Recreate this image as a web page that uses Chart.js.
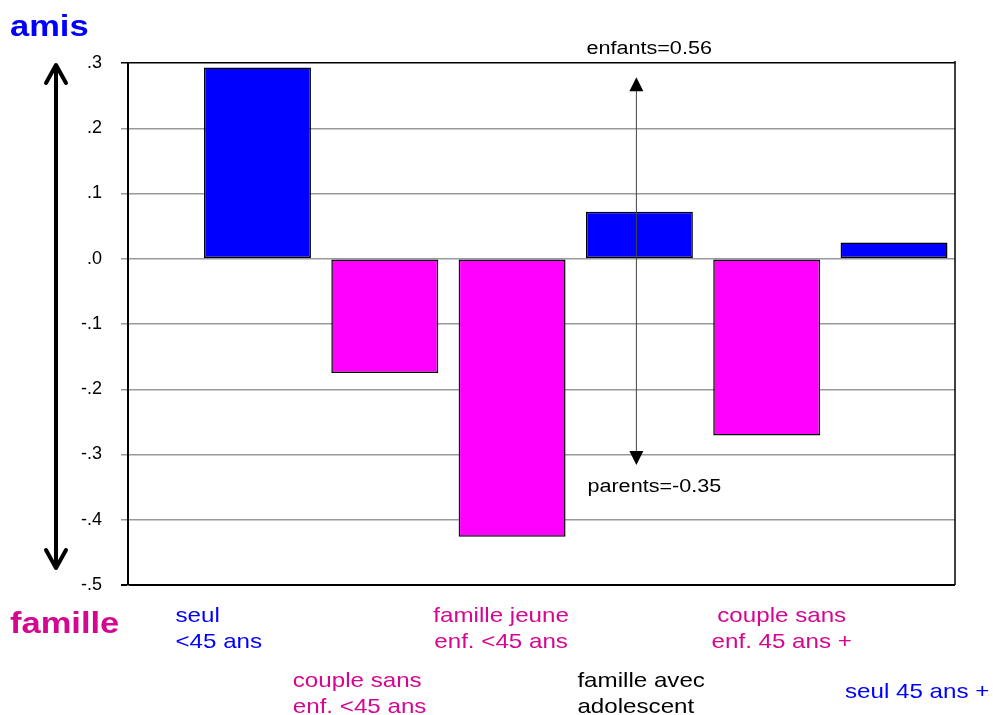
<!DOCTYPE html>
<html>
<head>
<meta charset="utf-8">
<script src="https://cdn.jsdelivr.net/npm/chart.js@4/dist/chart.umd.min.js"></script>
<style>
  html, body { margin: 0; padding: 0; background: #fff; }
  #wrap { width: 993px; height: 715px; }
</style>
</head>
<body>
<div id="wrap"><canvas id="chart"></canvas></div>
<script>
// data
const categories = [
  ['seul', '<45 ans'],
  ['couple sans', 'enf. <45 ans'],
  ['famille jeune', 'enf. <45 ans'],
  ['famille avec', 'adolescent'],
  ['couple sans', 'enf. 45 ans +'],
  ['seul 45 ans +']
];
const values = [0.293, -0.175, -0.426, 0.072, -0.271, 0.025];
const labelColors = ['#0000ff', '#d5068f', '#d5068f', '#000000', '#d5068f', '#0000ff'];
const yTicks = [0.3, 0.2, 0.1, 0, -0.1, -0.2, -0.3, -0.4, -0.5];
const enfantsText = 'enfants=0.56';
const parentsText = 'parents=-0.35';
const topLabel = 'amis';
const bottomLabel = 'famille';

const BLUE = '#0000ff';
const MAGENTA = '#ff00ff';
const FONT = '"Liberation Sans", Arial, sans-serif';

// text looks a bit wide in the original, stretch it the same way
function wideText(ctx, txt, x, y, font, color, align, sx) {
  ctx.save();
  ctx.font = font;
  ctx.fillStyle = color;
  ctx.textAlign = align;
  ctx.textBaseline = 'alphabetic';
  ctx.scale(sx, 1);
  ctx.fillText(txt, x / sx, y);
  ctx.restore();
}

function arrowHead(ctx, x, y, dir, w, h) {
  ctx.beginPath();
  ctx.moveTo(x, y);
  ctx.lineTo(x - w / 2, y - dir * h);
  ctx.lineTo(x + w / 2, y - dir * h);
  ctx.closePath();
  ctx.fill();
}

// where each category label goes, relative to its bar
const labelPlace = [
  { dx: -82, y: 622, align: 'left' },
  { dx: -92, y: 687, align: 'left' },
  { dx: -11, y: 622, align: 'center' },
  { dx: -62, y: 687, align: 'left' },
  { dx: 15, y: 622, align: 'center' },
  { dx: -49, y: 698, align: 'left' }
];

const extras = {
  id: 'extras',
  afterDraw(chart) {
    const ctx = chart.ctx;
    const xs = chart.scales.x, ys = chart.scales.y;
    const area = chart.chartArea;

    // right border
    ctx.save();
    ctx.strokeStyle = '#000';
    ctx.lineWidth = 1.5;
    ctx.beginPath();
    ctx.moveTo(area.right, area.top - 2);
    ctx.lineTo(area.right, area.bottom);
    ctx.stroke();

    // big amis/famille arrow
    const ax = 56, aTop = ys.getPixelForValue(0.3) + 2, aBot = ys.getPixelForValue(-0.5) - 17;
    ctx.lineWidth = 4;
    ctx.lineCap = 'round';
    ctx.lineJoin = 'round';
    ctx.beginPath();
    ctx.moveTo(ax, aTop + 1);
    ctx.lineTo(ax, aBot - 1);
    ctx.moveTo(ax - 10, aTop + 18);
    ctx.lineTo(ax, aTop);
    ctx.lineTo(ax + 10, aTop + 18);
    ctx.moveTo(ax - 10, aBot - 18);
    ctx.lineTo(ax, aBot);
    ctx.lineTo(ax + 10, aBot - 18);
    ctx.stroke();

    // enfants / parents arrow
    const px = xs.getPixelForValue(3) - 3;
    const pTop = ys.getPixelForValue(0.278), pBot = ys.getPixelForValue(-0.316);
    ctx.strokeStyle = '#444';
    ctx.fillStyle = '#000';
    ctx.lineWidth = 1;
    ctx.lineCap = 'butt';
    ctx.beginPath();
    ctx.moveTo(px, pTop + 10);
    ctx.lineTo(px, pBot - 10);
    ctx.stroke();
    arrowHead(ctx, px, pTop, -1, 14, 14);
    arrowHead(ctx, px, pBot, 1, 14, 14);
    ctx.restore();

    wideText(ctx, enfantsText, px - 50, area.top - 9, '18px ' + FONT, '#000', 'left', 1.2);
    wideText(ctx, parentsText, px - 49, pBot + 27, '18px ' + FONT, '#000', 'left', 1.2);

    wideText(ctx, topLabel, 10, 36, 'bold 30px ' + FONT, BLUE, 'left', 1.15);
    wideText(ctx, bottomLabel, 10, 633, 'bold 30px ' + FONT, '#d5068f', 'left', 1.15);

    categories.forEach((lines, i) => {
      const p = labelPlace[i];
      const cx = xs.getPixelForValue(i) + p.dx;
      lines.forEach((t, k) => {
        wideText(ctx, t, cx, p.y + k * 26, '21px ' + FONT, labelColors[i], p.align, 1.15);
      });
    });
  }
};

new Chart(document.getElementById('chart'), {
  type: 'bar',
  data: {
    datasets: [{
      data: values.map((v, i) => ({ x: i, y: v })),
      backgroundColor: values.map(v => v >= 0 ? BLUE : MAGENTA),
      borderColor: '#000',
      borderWidth: 1.5,
      borderSkipped: false,
      barPercentage: 0.84,
      categoryPercentage: 1
    }]
  },
  options: {
    responsive: true,
    maintainAspectRatio: false,
    animation: false,
    layout: { padding: { top: 63, bottom: 130, right: 38, left: 0 } },
    plugins: { legend: { display: false }, tooltip: { enabled: false } },
    scales: {
      x: {
        type: 'linear',
        offset: false,
        min: -1.017,
        max: 5.479,
        display: false,
        // one tick per bar so the bar width comes from the bar spacing
        afterBuildTicks(scale) { scale.ticks = categories.map((c, i) => ({ value: i })); }
      },
      y: {
        min: -0.5,
        max: 0.3,
        afterFit(scale) { scale.width = 128; },
        afterBuildTicks(scale) { scale.ticks = yTicks.map(v => ({ value: v })); },
        ticks: {
          color: '#000',
          padding: 19,
          font: { family: FONT, size: 18 },
          callback: v => v.toFixed(1).replace('0.', '.')
        },
        grid: {
          tickLength: 7,
          color: c => (c.tick && (c.tick.value === 0.3 || c.tick.value === -0.5)) ? '#000' : '#999',
          lineWidth: c => (c.tick && c.tick.value === -0.5) ? 2 : 1.5
        },
        border: { display: true, color: '#000', width: 2 }
      }
    }
  },
  plugins: [extras]
});
</script>
</body>
</html>
